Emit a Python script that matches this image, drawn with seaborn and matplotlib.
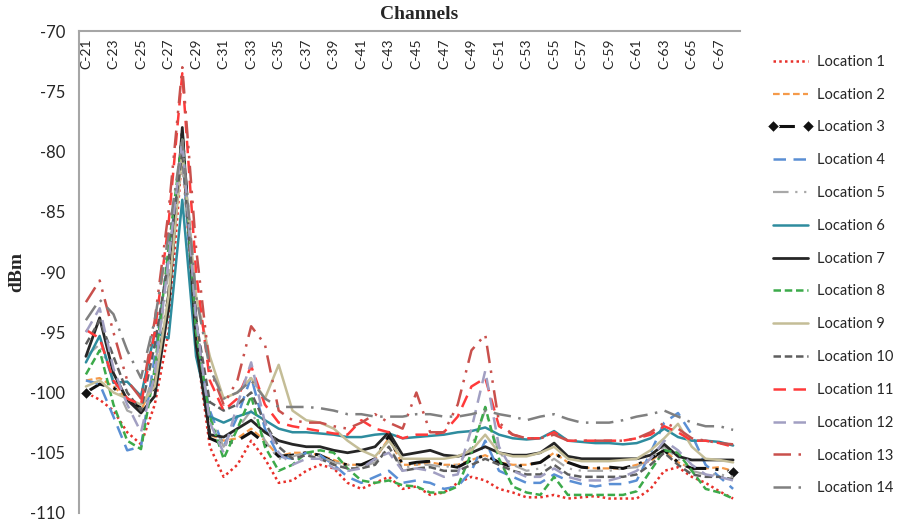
#!/usr/bin/env python3
"""
Received power per TV channel (C-21 .. C-68) measured at 14 locations.
Excel-style line chart: channel axis along the top, dBm on the left.
"""
import pandas as pd
import matplotlib
matplotlib.use("Agg")
import matplotlib.pyplot as plt
import seaborn as sns

# CONFIGURATION
channel_numbers = list(range(21, 69))
channel_labels = [f"C-{n}" for n in channel_numbers]
y_ticks = [-110, -105, -100, -95, -90, -85, -80, -75, -70]
location_names = [f"Location {i}" for i in range(1, 15)]

# measured levels (dBm), one value per channel C-21 .. C-68
loc1 = [-100.0, -100.6, -101.5, -103.3, -104.3, -101.0, -95.0, -80.0, -96.0, -104.5,
        -107.0, -106.0, -104.0, -105.5, -107.5, -107.3, -106.5, -106.0, -106.3, -107.5,
        -108.0, -107.5, -107.0, -108.0, -107.8, -108.5, -108.3, -107.5, -107.0, -107.3,
        -108.0, -108.3, -108.7, -108.7, -108.5, -108.8, -108.7, -108.6, -108.8, -108.8,
        -108.8, -108.0, -106.5, -106.2, -107.0, -107.5, -108.2, -108.8]
loc2 = [-99.0, -98.8, -99.5, -100.5, -101.5, -99.0, -93.0, -79.0, -95.0, -103.5,
        -104.0, -103.8, -103.0, -104.0, -105.3, -105.0, -105.0, -105.2, -105.6, -106.0,
        -106.0, -105.5, -103.8, -106.0, -106.0, -105.8, -106.0, -106.0, -105.6, -105.2,
        -105.8, -106.0, -106.0, -105.8, -105.0, -105.8, -106.2, -106.3, -106.3, -106.3,
        -106.0, -105.7, -104.8, -105.8, -106.3, -106.3, -106.2, -106.5]
loc3 = [-100.0, -99.3, -99.6, -100.5, -101.3, -99.5, -92.0, -78.5, -94.0, -103.8,
        -104.3, -104.0, -103.3, -104.2, -105.3, -105.2, -105.0, -105.2, -105.8, -106.0,
        -106.0, -105.5, -103.6, -106.0, -105.8, -105.7, -106.0, -106.2, -105.6, -105.2,
        -105.8, -106.2, -106.0, -105.8, -105.0, -105.8, -106.2, -106.3, -106.2, -106.3,
        -106.0, -105.5, -104.8, -105.8, -106.3, -106.3, -106.4, -106.6]
loc4 = [-99.0, -99.3, -102.0, -104.8, -104.5, -97.0, -88.5, -80.0, -96.0, -101.5,
        -104.5, -102.0, -98.7, -103.0, -105.3, -105.5, -105.0, -105.2, -106.0, -107.0,
        -107.5, -107.0, -106.5, -107.5, -107.3, -107.5, -108.0, -107.8, -106.5, -104.0,
        -106.5, -107.0, -107.5, -107.5, -106.8, -107.3, -107.6, -107.8, -107.6, -107.6,
        -107.3, -105.0, -102.5, -101.7, -103.5, -106.0, -107.0, -108.0]
loc5 = [-97.0, -96.0, -99.0, -101.5, -102.0, -98.0, -90.0, -81.0, -95.0, -102.0,
        -104.5, -103.0, -101.5, -104.0, -105.5, -105.3, -105.0, -105.3, -105.8, -106.0,
        -106.2, -105.8, -104.5, -106.3, -106.0, -106.0, -106.2, -106.0, -104.5, -101.5,
        -105.0, -106.0, -106.5, -106.3, -105.5, -106.3, -106.5, -106.5, -106.5, -106.3,
        -106.2, -105.5, -104.5, -105.5, -106.5, -106.8, -106.8, -107.0]
loc6 = [-97.5, -95.3, -99.2, -99.1, -100.3, -95.0, -95.5, -84.0, -97.0, -102.0,
        -102.5, -102.0, -101.6, -102.3, -103.0, -103.3, -103.3, -103.4, -103.5, -103.7,
        -103.7, -103.5, -103.4, -103.8, -103.7, -103.6, -103.5, -103.3, -103.2, -102.9,
        -103.5, -103.8, -103.9, -103.8, -103.2, -104.0, -104.1, -104.2, -104.2, -104.3,
        -104.2, -103.8, -103.0, -103.7, -104.0, -104.0, -104.1, -104.4]
loc7 = [-97.0, -93.8, -98.4, -100.6, -101.7, -100.3, -93.0, -78.0, -96.0, -103.5,
        -103.7, -103.0, -102.3, -103.3, -104.0, -104.3, -104.5, -104.5, -104.8, -105.0,
        -104.8, -104.5, -103.3, -105.2, -105.0, -104.8, -105.2, -105.3, -105.0, -104.5,
        -105.0, -105.2, -105.2, -105.0, -104.2, -105.3, -105.5, -105.5, -105.5, -105.5,
        -105.5, -105.2, -104.3, -105.3, -105.6, -105.6, -105.6, -105.6]
loc8 = [-98.5, -96.5, -101.0, -104.0, -104.7, -98.0, -88.0, -79.0, -95.0, -102.0,
        -105.5, -103.0, -100.3, -104.5, -106.5, -106.0, -105.0, -104.8, -105.0, -106.3,
        -107.3, -107.5, -107.3, -107.7, -107.8, -108.3, -108.3, -107.8, -105.0, -101.2,
        -105.5, -107.8, -108.3, -108.5, -107.0, -108.5, -108.5, -108.5, -108.5, -108.5,
        -108.2, -106.5, -104.8, -105.0, -106.5, -108.0, -108.3, -108.8]
loc9 = [-99.5, -99.0, -100.0, -100.5, -101.0, -99.5, -92.0, -80.0, -92.0, -97.0,
        -100.5, -100.0, -98.8, -100.5, -97.7, -101.5, -102.3, -102.5, -103.0, -104.0,
        -104.8, -105.3, -104.0, -105.5, -105.5, -105.5, -105.5, -105.3, -104.8, -103.5,
        -105.0, -105.3, -105.3, -105.0, -104.5, -105.5, -105.7, -105.7, -105.7, -105.6,
        -105.5, -104.8, -103.8, -102.6, -104.5, -105.5, -105.6, -105.8]
loc10 = [-96.0, -94.0, -97.0, -100.0, -101.5, -96.0, -89.0, -80.0, -94.0, -100.8,
         -101.5, -101.0, -100.0, -102.5, -104.5, -105.5, -105.2, -105.5, -106.0, -106.3,
         -106.3, -106.0, -104.5, -106.5, -106.3, -106.2, -106.5, -106.5, -106.0, -105.5,
         -106.0, -106.5, -106.8, -106.8, -106.0, -106.8, -107.0, -107.0, -107.0, -107.0,
         -106.8, -106.0, -105.0, -106.0, -106.8, -107.0, -107.0, -107.2]
loc11 = [-94.8, -95.5, -99.0, -100.5, -101.0, -95.0, -86.0, -73.5, -90.0, -99.0,
         -101.5, -100.5, -97.8, -101.0, -102.5, -102.8, -103.0, -103.2, -103.4, -103.5,
         -102.3, -103.0, -103.3, -103.8, -103.5, -103.5, -103.3, -102.0, -99.5, -98.8,
         -102.8, -103.5, -103.8, -103.8, -103.3, -104.0, -104.0, -104.0, -104.0, -104.0,
         -103.8, -103.5, -102.8, -103.3, -104.0, -104.0, -104.2, -104.5]
loc12 = [-95.0, -93.0, -98.0, -101.0, -103.3, -98.5, -89.0, -79.0, -94.0, -102.5,
         -105.0, -101.0, -97.5, -102.5, -105.0, -106.0, -105.5, -105.5, -106.3, -106.5,
         -106.3, -105.5, -105.0, -106.5, -106.3, -106.5, -107.0, -106.8, -103.0, -98.2,
         -104.5, -106.5, -107.0, -107.0, -106.3, -107.0, -107.3, -107.3, -107.3, -107.0,
         -106.5, -105.5, -104.0, -104.8, -106.0, -106.8, -107.0, -107.3]
loc13 = [-92.5, -90.7, -95.0, -99.0, -100.5, -94.0, -85.0, -73.0, -88.0, -98.0,
         -101.0, -99.0, -94.5, -96.0, -101.5, -102.3, -102.5, -102.5, -102.8, -103.0,
         -102.5, -101.8, -102.5, -103.0, -100.0, -103.3, -103.3, -101.0, -96.5, -95.2,
         -102.5, -103.5, -103.8, -103.8, -103.5, -104.0, -104.0, -104.0, -104.0, -104.0,
         -103.8, -103.3, -102.5, -103.0, -103.8, -104.0, -104.2, -104.3]
loc14 = [-94.0, -92.3, -93.5, -96.5, -98.8, -94.0, -87.0, -79.0, -92.0, -98.0,
         -100.5, -100.0, -99.0, -100.5, -101.2, -101.2, -101.2, -101.3, -101.5, -101.8,
         -101.8, -102.0, -102.0, -102.0, -101.8, -101.8, -102.0, -102.0, -101.8, -101.5,
         -101.8, -102.0, -102.3, -102.0, -101.8, -102.2, -102.5, -102.5, -102.5, -102.3,
         -102.0, -101.8, -101.5, -102.0, -102.5, -102.8, -102.8, -103.1]

series = [loc1, loc2, loc3, loc4, loc5, loc6, loc7,
          loc8, loc9, loc10, loc11, loc12, loc13, loc14]

# line appearance for each location (colour, dash pattern, width)
colors = ["#E8302A", "#F59A4A", "#111111", "#5A8FD4", "#A8A8A8", "#2E8C9E", "#262626",
          "#3CAA4A", "#C4BD97", "#5E5E5E", "#FF3A3A", "#A19FC2", "#C9504C", "#808080"]
styles = [(0, (1, 1.3)), (0, (3, 1.5)), (0, (7, 3, 1, 3)), (0, (5, 3)),
          (0, (7, 3, 1, 3, 1, 3)), "-", "-", (0, (3, 1.5)), "-", (0, (3, 1.5)),
          (0, (5, 3)), (0, (5, 3)), (0, (7, 3, 1, 3, 1, 3)), (0, (7, 3, 1, 3))]
widths = [1.8, 1.6, 2.2, 1.8, 1.6, 1.8, 2.0, 1.8, 1.8, 1.8, 1.8, 1.8, 1.8, 1.8]


def main():
    sns.set_style("white")
    plt.rcParams["font.family"] = ["Lato", "DejaVu Sans"]

    fig, ax = plt.subplots(figsize=(9.01, 5.27), dpi=100)
    fig.subplots_adjust(left=0.0877, right=0.8213, top=0.941, bottom=0.0266)

    for name, values, c, ls, lw in zip(location_names, series, colors, styles, widths):
        df = pd.DataFrame({"channel": channel_numbers, "dBm": values})
        extra = {}
        if name == "Location 3":
            extra = dict(marker="D", markersize=6, markevery=[0, len(values) - 1])
        sns.lineplot(data=df, x="channel", y="dBm", ax=ax, color=c, linestyle=ls,
                     linewidth=lw, label=name, **extra)

    ax.set_xlim(20.5, 68.5)
    ax.set_ylim(-110, -70)

    # channel axis drawn at the top, labels sitting just inside the plot
    ax.tick_params(axis="x", bottom=False, top=False, labelbottom=False,
                   labeltop=True, pad=-9, labelsize=10)
    ax.set_xticks(channel_numbers[::2])
    ax.set_xticklabels(channel_labels[::2], rotation=90, va="top")
    ax.set_xlabel("")

    ax.set_yticks(y_ticks)
    ax.set_yticklabels([str(v) for v in y_ticks])
    ax.tick_params(axis="y", left=False, length=0, pad=10, labelsize=12)

    for side in ["bottom", "right"]:
        ax.spines[side].set_visible(False)
    for side in ["left", "top"]:
        ax.spines[side].set_color("#A6A6A6")
        ax.spines[side].set_linewidth(1.5)

    ax.set_title("Channels", family="Liberation Serif", fontweight="bold",
                 fontsize=14, pad=9, x=0.515)
    ax.set_ylabel("dBm", family="Liberation Serif", fontweight="bold", fontsize=14)
    ax.yaxis.set_label_coords(-0.082, 0.5)

    ax.legend(loc="upper left", bbox_to_anchor=(0.853, 0.896),
              bbox_transform=fig.transFigure, frameon=False, fontsize=10.5,
              handlelength=3.0, handletextpad=0.35, labelspacing=1.29,
              borderpad=0, borderaxespad=0, numpoints=2)

    fig.savefig("out.png", dpi=100)


if __name__ == "__main__":
    main()
